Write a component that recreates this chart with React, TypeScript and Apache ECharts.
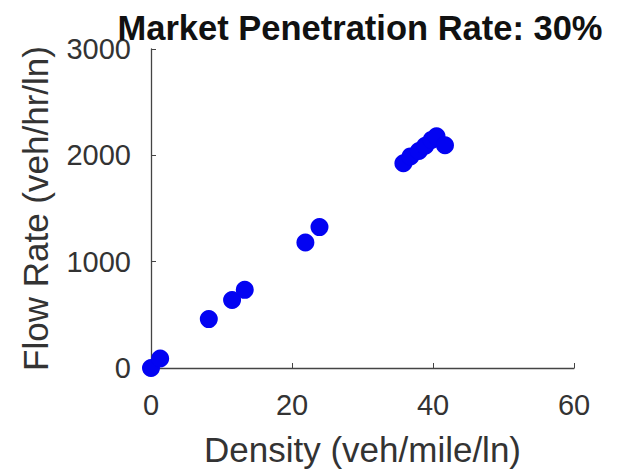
import React, { useEffect, useRef } from "react";
import * as echarts from "echarts";

const densityValues: number[] = [0, 1.3, 8.2, 11.5, 13.3, 21.9, 23.9, 35.8, 36.8, 38.0, 38.9, 39.8, 40.5, 41.7];
const flowValues: number[] = [0, 90, 460, 640, 735, 1180, 1325, 1925, 1990, 2040, 2090, 2145, 2180, 2095];
const titleText = "Market Penetration Rate: 30%";
const xName = "Density (veh/mile/ln)";
const yName = "Flow Rate (veh/hr/ln)";

export default function App() {
  const ref = useRef<HTMLDivElement>(null);
  useEffect(() => {
    document.body.style.margin = "0";
    if (!ref.current) return;
    const chart = echarts.init(ref.current, undefined, { renderer: "svg" });
    const font = "'Liberation Sans', Arial, sans-serif";
    const axisColor = "#333333";
    chart.setOption({
      animation: false,
      backgroundColor: "#ffffff",
      title: {
        text: titleText,
        left: 355,
        top: 5,
        textAlign: "center",
        textStyle: { fontFamily: font, fontSize: 34.5, fontWeight: "bold", color: "#111111" },
      },
      grid: { left: 151, right: 52, top: 49, bottom: 104, containLabel: false },
      xAxis: {
        type: "value",
        min: 0,
        max: 60,
        interval: 20,
        name: xName,
        nameLocation: "middle",
        nameGap: 64,
        nameTextStyle: { fontFamily: font, fontSize: 35, color: axisColor },
        axisLine: { show: true, lineStyle: { color: "#444444", width: 1.3 } },
        axisTick: { show: true, inside: true, length: 5, lineStyle: { color: "#444444" } },
        axisLabel: { fontFamily: font, fontSize: 29, color: axisColor, margin: 22, formatter: (v: number) => String(v) },
        splitLine: { show: false },
      },
      yAxis: {
        type: "value",
        min: 0,
        max: 3000,
        interval: 1000,
        name: yName,
        nameLocation: "middle",
        nameGap: 98,
        nameRotate: 90,
        nameTextStyle: { fontFamily: font, fontSize: 35, color: axisColor },
        axisLine: { show: true, lineStyle: { color: "#444444", width: 1.3 } },
        axisTick: { show: true, inside: true, length: 5, lineStyle: { color: "#444444" } },
        axisLabel: { fontFamily: font, fontSize: 29, color: axisColor, margin: 20, formatter: (v: number) => String(v) },
        splitLine: { show: false },
      },
      series: [
        {
          type: "scatter",
          data: densityValues.map((d, i) => [d, flowValues[i]]),
          symbol: "circle",
          symbolSize: 18,
          itemStyle: { color: "#0303f2", opacity: 1 },
          clip: false,
        },
      ],
    });
    return () => chart.dispose();
  }, []);
  return <div ref={ref} style={{ width: 626, height: 472 }} />;
}
